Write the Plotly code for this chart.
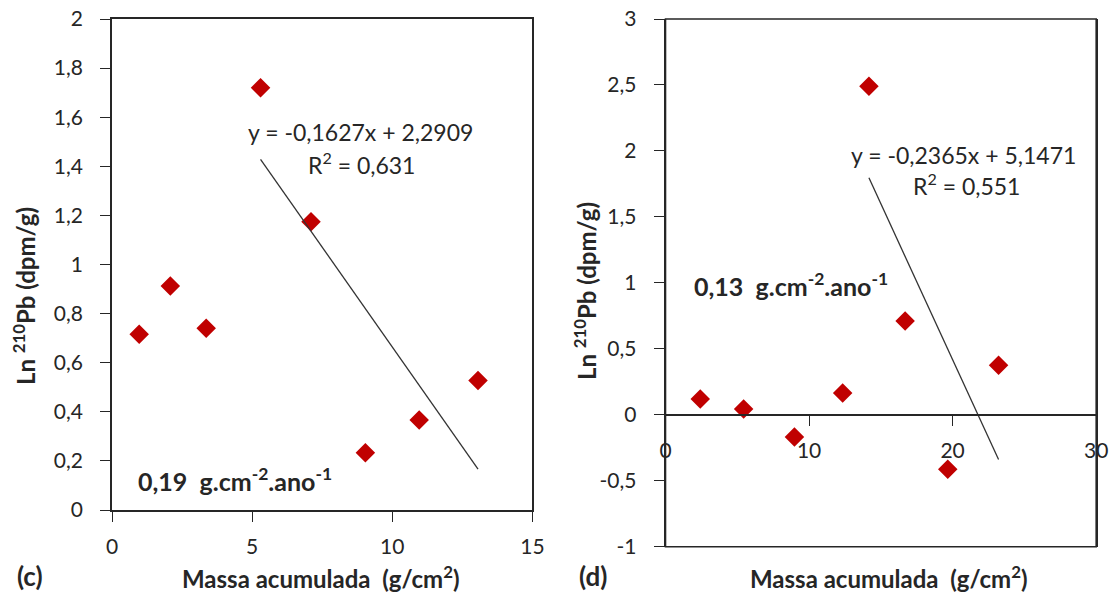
import plotly.graph_objects as go

# ---------------- data ----------------
# panel (c)
mass_c = [0.97, 2.08, 3.36, 5.30, 7.10, 9.04, 10.96, 13.06]
ln_c = [0.716, 0.912, 0.74, 1.72, 1.174, 0.233, 0.367, 0.528]
slope_c, intercept_c, r2_c = -0.1627, 2.2909, 0.631
fit_start_c = 3          # regression uses points from this index onwards
rate_c = "0,19"

# panel (d)
mass_d = [2.42, 5.44, 8.98, 12.34, 14.17, 16.69, 19.66, 23.2]
ln_d = [0.12, 0.044, -0.168, 0.165, 2.49, 0.711, -0.413, 0.375]
slope_d, intercept_d, r2_d = -0.2365, 5.1471, 0.551
fit_start_d = 4
rate_d = "0,13"

# tick labels
yt_c = [0, 0.2, 0.4, 0.6, 0.8, 1, 1.2, 1.4, 1.6, 1.8, 2]
yl_c = ["0", "0,2", "0,4", "0,6", "0,8", "1", "1,2", "1,4", "1,6", "1,8", "2"]
xt_c = [0, 5, 10, 15]
yt_d = [-1, -0.5, 0, 0.5, 1, 1.5, 2, 2.5, 3]
yl_d = ["-1", "-0,5", "0", "0,5", "1", "1,5", "2", "2,5", "3"]
xt_d = [0, 10, 20, 30]

# ---------------- styling ----------------
W, H = 1114, 597
FONT = "Lato"
TXT = "#262626"
AX = "#262626"
RED = "#C00000"
NB = "\u00a0"


def px(x):
    return x / W


def py(y):
    return 1 - y / H


def fmt(v, nd):
    return f"{v:.{nd}f}".replace(".", ",")


fig = go.Figure()

# scatter points
fig.add_trace(go.Scatter(x=mass_c, y=ln_c, mode="markers",
                         marker=dict(symbol="diamond", size=15, color=RED),
                         xaxis="x", yaxis="y", showlegend=False))
fig.add_trace(go.Scatter(x=mass_d, y=ln_d, mode="markers",
                         marker=dict(symbol="diamond", size=15, color=RED),
                         xaxis="x2", yaxis="y2", showlegend=False))

# trend lines
tx_c = [mass_c[fit_start_c], mass_c[-1]]
ty_c = [slope_c * v + intercept_c for v in tx_c]
fig.add_trace(go.Scatter(x=tx_c, y=ty_c, mode="lines",
                         line=dict(color="#333333", width=1.3),
                         xaxis="x", yaxis="y", showlegend=False))
tx_d = [mass_d[fit_start_d], mass_d[-1]]
ty_d = [slope_d * v + intercept_d for v in tx_d]
fig.add_trace(go.Scatter(x=tx_d, y=ty_d, mode="lines",
                         line=dict(color="#333333", width=1.3),
                         xaxis="x2", yaxis="y2", showlegend=False))

# domains
xdom_c = [px(112), px(532.4)]
ydom_c = [py(510), py(19)]
xdom_d = [px(665.5), px(1096.2)]
ydom_d = [py(546.7), py(19)]
ymin_d, ymax_d = -1, 3
xpos_d = ydom_d[0] + (0 - ymin_d) / (ymax_d - ymin_d) * (ydom_d[1] - ydom_d[0])

tickfont = dict(family=FONT, size=21, color=TXT)
common = dict(showgrid=False, zeroline=False, showline=True, linecolor=AX,
              linewidth=1.6, ticks="outside", ticklen=10, tickwidth=1.4,
              tickcolor=AX, tickfont=tickfont, automargin=False)

fig.update_layout(
    width=W, height=H,
    margin=dict(l=0, r=0, t=0, b=0),
    paper_bgcolor="white", plot_bgcolor="white",
    font=dict(family=FONT, color=TXT),
    xaxis=dict(domain=xdom_c, range=[0, 15], tickvals=xt_c, mirror=True,
               anchor="y", ticklabelstandoff=7, **common),
    yaxis=dict(domain=ydom_c, range=[0, 2], tickvals=yt_c, ticktext=yl_c,
               mirror=True, anchor="x", ticklabelstandoff=13, **common),
    xaxis2=dict(domain=xdom_d, range=[0, 30], tickvals=xt_d, anchor="free",
                position=xpos_d, ticklabelstandoff=7, **common),
    yaxis2=dict(domain=ydom_d, range=[ymin_d, ymax_d], tickvals=yt_d,
                ticktext=yl_d, mirror=True, anchor="x2", ticklabelstandoff=13,
                **common),
)

# frame top/bottom for panel (d)
fig.add_shape(type="rect", xref="x2 domain", yref="y2 domain", x0=0, x1=1,
              y0=0, y1=1, line=dict(color=AX, width=1.6), layer="above")

ann = []
# axis titles
ytitle = f"<b>Ln{NB}<sup>210</sup>Pb{NB}(dpm/g)</b>"
ann.append(dict(x=px(24), y=py(296), text=ytitle, textangle=-90,
                font=dict(family=FONT, size=24, color=TXT)))
ann.append(dict(x=px(585), y=py(291), text=ytitle, textangle=-90,
                font=dict(family=FONT, size=24, color=TXT)))
xtitle = f"<b>Massa acumulada{NB}{NB}(g/cm<sup>2</sup>)</b>"
ann.append(dict(x=px(320), y=py(577), text=xtitle,
                font=dict(family=FONT, size=24, color=TXT)))
ann.append(dict(x=px(888), y=py(577), text=xtitle,
                font=dict(family=FONT, size=24, color=TXT)))
# panel letters
ann.append(dict(x=px(15), y=py(576), text="<b>(c)</b>", xanchor="left",
                font=dict(family=FONT, size=26, color=TXT)))
ann.append(dict(x=px(577), y=py(576), text="<b>(d)</b>", xanchor="left",
                font=dict(family=FONT, size=26, color=TXT)))
# equations
ann.append(dict(x=px(360), y=py(132),
                text=f"y = {fmt(slope_c, 4)}x + {fmt(intercept_c, 4)}",
                font=dict(family=FONT, size=23, color=TXT)))
ann.append(dict(x=px(361), y=py(163), text=f"R<sup>2</sup> = {fmt(r2_c, 3)}",
                font=dict(family=FONT, size=23, color=TXT)))
ann.append(dict(x=px(964), y=py(155),
                text=f"y = {fmt(slope_d, 4)}x + {fmt(intercept_d, 4)}",
                font=dict(family=FONT, size=23, color=TXT)))
ann.append(dict(x=px(966), y=py(185), text=f"R<sup>2</sup> = {fmt(r2_d, 3)}",
                font=dict(family=FONT, size=23, color=TXT)))
# sedimentation rates
ann.append(dict(x=px(136), y=py(479),
                text=f"<b>{rate_c}{NB}{NB}g.cm<sup>-2</sup>.ano<sup>-1</sup></b>",
                xanchor="left", font=dict(family=FONT, size=25, color=TXT)))
ann.append(dict(x=px(692), y=py(284),
                text=f"<b>{rate_d}{NB}{NB}g.cm<sup>-2</sup>.ano<sup>-1</sup></b>",
                xanchor="left", font=dict(family=FONT, size=25, color=TXT)))

for a in ann:
    a.update(xref="paper", yref="paper", showarrow=False)
    a.setdefault("xanchor", "center")
    a.setdefault("yanchor", "middle")
fig.update_layout(annotations=ann)

fig.write_html("out.html", config={"displayModeBar": False},
               post_script="document.body.style.margin='0px';"
                           "document.body.style.overflow='hidden';")
